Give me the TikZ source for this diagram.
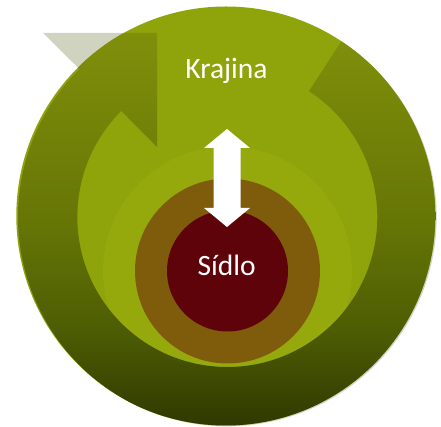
\documentclass[tikz,border=0pt]{standalone}
\usepackage{fontspec}
\setmainfont{Carlito}
\usetikzlibrary{calc}

\definecolor{basegreen}{RGB}{143,163,10}
\definecolor{ringgreen}{RGB}{150,169,12}
\definecolor{ringbrown}{RGB}{127,92,11}
\definecolor{coremaroon}{RGB}{94,3,9}
\definecolor{bandghost}{RGB}{208,211,192}
\definecolor{bandA}{RGB}{48,56,0}
\definecolor{bandB}{RGB}{76,92,3}
\definecolor{bandC}{RGB}{102,118,6}
\definecolor{bandD}{RGB}{128,143,10}

% vertical gradient of the circular arrow, dark at the bottom
\pgfdeclareverticalshading{bandshade}{100bp}{%
  color(0bp)=(bandA); color(25bp)=(bandA); color(37bp)=(bandB);
  color(51bp)=(bandC); color(75bp)=(bandD); color(100bp)=(bandD)}

% outline of the circular arrow: band from r=150 to r=209.3, head at 135 deg
\newcommand{\bandoutline}{%
  ($(227.3,210)+(57:209.3)$) arc[start angle=57, end angle=-225, radius=209.3]
  -- (43,394) -- (157,394) -- (157,280)
  -- ($(227.3,210)+(135:150)$) arc[start angle=-225, end angle=57, radius=150]
  -- cycle}

\tikzset{
  disc/.style={circle, inner sep=0pt, outer sep=0pt, draw=none},
  label/.style={text=white, font=\fontsize{29.5}{35}\selectfont, inner sep=0pt, anchor=base},
}

\begin{document}
\begin{tikzpicture}[x=1pt, y=1pt]
  \useasboundingbox (0,0) rectangle (441,427);

  % pale part of the arrow head standing out of the disc
  \fill[bandghost] \bandoutline;

  % large disc
  \node[disc, fill=basegreen, minimum size=419pt] (krajinadisc) at (225.8,211) {};

  % nested circles of the settlement
  \node[disc, fill=ringgreen, minimum size=249pt] (outerring) at (227.5,156) {};
  \node[disc, fill=ringbrown, minimum size=185pt] (middlering) at (227.5,156) {};
  \node[disc, fill=coremaroon, minimum size=121pt] (sidlo) at (227.5,156) {};

  % circular arrow with its gradient, kept inside the disc
  \begin{scope}
    \clip (225.8,211) circle[radius=209.5];
    \clip \bandoutline;
    \shade[shading=bandshade] (0,0) rectangle (441,394);
  \end{scope}

  % two-way arrow between the landscape and the settlement
  \fill[white] (227,298) -- (250,279) -- (240.5,279) -- (240.5,219) -- (250,219)
    -- (227,200) -- (204,219) -- (213.5,219) -- (213.5,279) -- (204,279) -- cycle;

  % labels
  \node[label] (krajina) at (226.5,348.5) {Krajina};
  \node[label] (sidlotext) at (226.7,151) {Sídlo};
\end{tikzpicture}
\end{document}
